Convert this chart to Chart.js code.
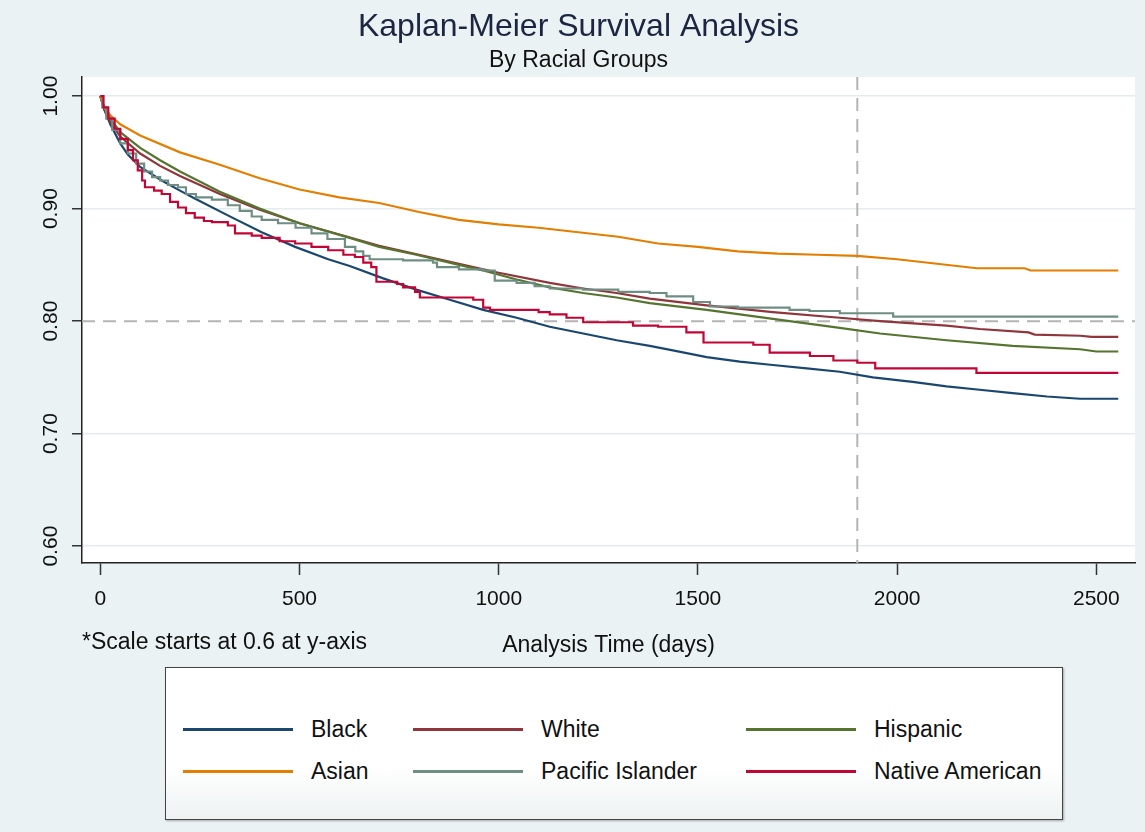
<!DOCTYPE html>
<html lang="en">
<head>
<meta charset="UTF-8">
<title>Kaplan-Meier Survival Analysis</title>
<script src="https://cdn.jsdelivr.net/npm/chart.js"></script>
<style>
  body { margin: 0; background: #eaf2f3; width: 1145px; height: 832px; position: relative; overflow: hidden;
         font-family: "Liberation Sans", Arial, sans-serif; }
  #chart { position: absolute; left: 0; top: 0; }
  #note { position: absolute; left: 82px; top: 628px; font-size: 23px; line-height: 26px; color: #111; }
  #legend { position: absolute; left: 165px; top: 667px; width: 896px; height: 151px; border: 1px solid #444;
            background: linear-gradient(#fff 65%, #eef2f3); box-shadow: 1px 1px 2px rgba(0,0,0,.3); }
  .item { position: absolute; font-size: 23px; color: #111; height: 26px; line-height: 26px; white-space: nowrap; }
  .swatch { position: absolute; left: 0; top: 12px; width: 110px; height: 3px; }
</style>
</head>
<body>
<canvas id="chart" width="1145" height="665"></canvas>
<div id="note">*Scale starts at 0.6 at y-axis</div>
<div id="legend"></div>
<script>
// survival estimates, [day, S(t)]
const black = [[0,1.0],[10,0.988],[25,0.975],[50,0.958],[69,0.948],[100,0.937],[154,0.925],[200,0.916],[237,0.909],
  [320,0.894],[405,0.879],[489,0.866],[572,0.855],[626,0.849],[710,0.838],[793,0.828],[877,0.819],[961,0.810],
  [1045,0.803],[1128,0.795],[1212,0.789],[1296,0.783],[1379,0.778],[1437,0.774],[1522,0.768],[1605,0.764],
  [1688,0.761],[1773,0.758],[1856,0.755],[1939,0.750],[2039,0.746],[2124,0.742],[2207,0.739],[2290,0.736],
  [2376,0.733],[2459,0.731],[2555,0.731]];
const white = [[0,1.0],[10,0.988],[25,0.977],[50,0.964],[100,0.949],[150,0.938],[200,0.929],[300,0.913],[400,0.899],
  [500,0.887],[600,0.877],[700,0.867],[800,0.859],[900,0.851],[1000,0.843],[1128,0.834],[1212,0.829],[1296,0.825],
  [1379,0.820],[1522,0.814],[1688,0.808],[1856,0.803],[1957,0.800],[2124,0.796],[2207,0.793],[2330,0.790],
  [2345,0.788],[2460,0.787],[2488,0.786],[2555,0.786]];
const hispanic = [[0,1.0],[10,0.99],[25,0.980],[50,0.968],[100,0.954],[150,0.943],[200,0.933],[300,0.915],[400,0.900],
  [500,0.887],[626,0.874],[700,0.866],[793,0.859],[900,0.850],[961,0.845],[1045,0.837],[1128,0.830],[1212,0.825],
  [1296,0.821],[1379,0.816],[1522,0.810],[1688,0.802],[1856,0.794],[1957,0.789],[2124,0.783],[2290,0.778],
  [2459,0.775],[2500,0.773],[2555,0.773]];
const asian = [[0,1.0],[10,0.99],[25,0.983],[50,0.975],[100,0.965],[200,0.950],[300,0.939],[400,0.927],[500,0.917],
  [600,0.910],[700,0.905],[800,0.897],[900,0.890],[1000,0.886],[1100,0.883],[1200,0.879],[1300,0.875],[1400,0.869],
  [1500,0.866],[1600,0.862],[1700,0.860],[1800,0.859],[1900,0.858],[2000,0.855],[2100,0.851],[2200,0.847],
  [2320,0.847],[2335,0.845],[2555,0.845]];
const pacific = [[0,1.0],[5,0.99],[15,0.98],[30,0.97],[50,0.958],[69,0.949],[90,0.940],[110,0.933],[130,0.928],
  [150,0.925],[170,0.921],[195,0.919],[215,0.913],[240,0.910],[280,0.908],[320,0.903],[350,0.898],[380,0.893],
  [405,0.890],[446,0.887],[490,0.883],[530,0.878],[570,0.873],[614,0.866],[640,0.862],[660,0.858],[676,0.855],
  [760,0.854],[835,0.852],[845,0.848],[900,0.846],[961,0.845],[990,0.836],[1045,0.834],[1090,0.831],[1128,0.829],
  [1212,0.828],[1300,0.826],[1379,0.825],[1421,0.822],[1488,0.817],[1530,0.813],[1600,0.812],[1730,0.810],
  [1780,0.809],[1856,0.807],[1990,0.804],[2555,0.804]];
const nativeAm = [[0,1.0],[8,0.99],[20,0.98],[36,0.971],[50,0.962],[69,0.952],[82,0.943],[94,0.934],[105,0.925],
  [112,0.919],[135,0.916],[154,0.913],[175,0.906],[195,0.901],[215,0.896],[237,0.892],[260,0.889],[280,0.888],
  [320,0.885],[338,0.878],[380,0.876],[405,0.874],[450,0.871],[489,0.869],[530,0.866],[572,0.863],[610,0.859],
  [639,0.857],[660,0.852],[680,0.848],[693,0.835],[745,0.833],[760,0.830],[790,0.826],[802,0.821],[936,0.819],
  [961,0.812],[978,0.810],[1100,0.808],[1128,0.806],[1170,0.803],[1212,0.799],[1337,0.796],[1400,0.795],
  [1471,0.790],[1514,0.781],[1639,0.779],[1680,0.772],[1781,0.769],[1840,0.765],[1900,0.763],[1945,0.758],
  [2199,0.754],[2555,0.754]];

const groups = ['Black', 'White', 'Hispanic', 'Asian', 'Pacific Islander', 'Native American'];
const series = [black, white, hispanic, asian, pacific, nativeAm];
const colors = ['#1a476f', '#90353b', '#55752f', '#e37e00', '#6e8e84', '#c10534'];
const stepped = [false, false, false, false, true, true];
const xTicks = [0, 500, 1000, 1500, 2000, 2500];
const yTicks = [0.6, 0.7, 0.8, 0.9, 1.0];
const refSurvival = 0.8;
const refDay = 1900;

const font = 'Liberation Sans, Arial, sans-serif';

const plotBg = {
    id: 'plotBg',
    beforeDraw(chart) {
        const { ctx, chartArea: a } = chart;
        ctx.save();
        ctx.fillStyle = '#ffffff';
        ctx.fillRect(a.left, a.top, a.right - a.left, a.bottom - a.top);
        ctx.restore();
    }
};

const refLines = {
    id: 'refLines',
    beforeDatasetsDraw(chart) {
        const { ctx, chartArea: a, scales } = chart;
        const y = scales.y.getPixelForValue(refSurvival);
        const x = scales.x.getPixelForValue(refDay);
        ctx.save();
        ctx.strokeStyle = '#b4b4b4';
        ctx.lineWidth = 2;
        ctx.setLineDash([13, 8]);
        ctx.beginPath();
        ctx.moveTo(a.left, y); ctx.lineTo(a.right, y);
        ctx.moveTo(x, a.top); ctx.lineTo(x, a.bottom);
        ctx.stroke();
        ctx.restore();
    }
};

new Chart(document.getElementById('chart'), {
    type: 'line',
    data: {
        datasets: series.map((s, i) => ({
            label: groups[i],
            data: s.map(([t, v]) => ({ x: t, y: v })),
            borderColor: colors[i],
            borderWidth: 2.2,
            pointRadius: 0,
            fill: false,
            stepped: stepped[i] ? 'before' : false,
            order: groups.length - i
        }))
    },
    options: {
        responsive: false,
        animation: false,
        layout: { padding: { left: 22, right: 10, top: 0, bottom: 0 } },
        plugins: {
            legend: { display: false },
            tooltip: { enabled: false },
            title: {
                display: true, text: 'Kaplan-Meier Survival Analysis', color: '#1c2541',
                font: { family: font, size: 32, weight: 'normal' }, padding: { top: 8, bottom: 0 }
            },
            subtitle: {
                display: true, text: 'By Racial Groups', color: '#111',
                font: { family: font, size: 23, weight: 'normal' }, padding: { top: 0, bottom: 3 }
            }
        },
        scales: {
            x: {
                type: 'linear', min: -46, max: 2597,
                afterBuildTicks: s => { s.ticks = xTicks.map(v => ({ value: v })); },
                afterFit: s => { s.height = 102; },
                ticks: { color: '#111', font: { family: font, size: 21 }, padding: 12, maxRotation: 0, autoSkip: false,
                         callback: v => v },
                grid: { drawOnChartArea: false, tickLength: 12, tickColor: '#333', tickWidth: 1.5 },
                border: { color: '#222', width: 1.5 },
                title: { display: true, text: 'Analysis Time (days)', color: '#111',
                         font: { family: font, size: 23 }, padding: { top: 0, bottom: 6 } }
            },
            y: {
                min: 0.585, max: 1.017,
                afterBuildTicks: s => { s.ticks = yTicks.map(v => ({ value: v })); },
                afterFit: s => { s.width = 60; },
                ticks: { color: '#111', font: { family: font, size: 21 }, padding: 0, minRotation: 90, maxRotation: 90,
                         crossAlign: 'center', callback: v => v.toFixed(2) },
                grid: { color: c => (c.tick && c.tick.value === refSurvival) ? 'rgba(0,0,0,0)' : '#e3ecee',
                        lineWidth: 1.5, tickLength: 10, tickColor: '#333', tickWidth: 1.5 },
                border: { color: '#222', width: 1.5 }
            }
        }
    },
    plugins: [plotBg, refLines]
});

// legend box, three columns
const legend = document.getElementById('legend');
const colX = [17, 247, 580];
const rowY = [48, 90];
groups.forEach((g, i) => {
    const item = document.createElement('div');
    item.className = 'item';
    item.style.left = colX[i % 3] + 'px';
    item.style.top = rowY[Math.floor(i / 3)] + 'px';
    item.innerHTML = '<span class="swatch" style="background:' + colors[i] + '"></span>' +
        '<span style="position:absolute;left:128px">' + g + '</span>';
    legend.appendChild(item);
});
</script>
</body>
</html>
